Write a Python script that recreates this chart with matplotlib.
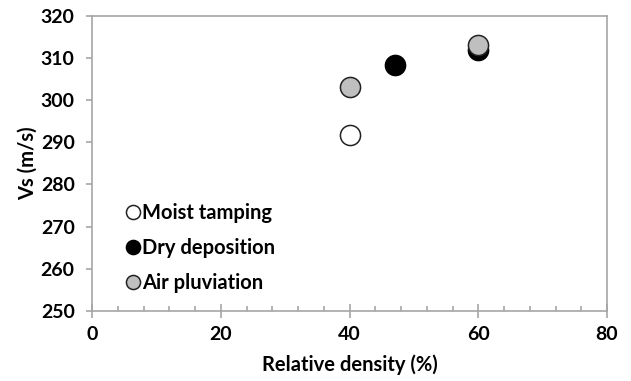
import matplotlib
matplotlib.use('Agg')
import matplotlib.pyplot as plt

plt.rcParams.update({
    'font.family': ['Lato', 'DejaVu Sans'],
    'font.weight': 'bold',
    'font.size': 14,
    'axes.labelweight': 'bold',
})

# Relative density (%) and shear wave velocity (m/s) per preparation method
moist_dr = [40]
moist_vs = [291.7]
dry_dr = [47, 60]
dry_vs = [308.3, 311.8]
air_dr = [40, 60]
air_vs = [303.1, 313.0]

fig = plt.figure(figsize=(6.31, 3.81), dpi=100)
ax = fig.add_axes([0.1458, 0.1837, 0.8162, 0.7756])

ms = 14.5
ax.plot(moist_dr, moist_vs, 'o', ms=ms, mfc='white', mec='#222222', mew=1.1,
        label='Moist tamping', zorder=3)
ax.plot(dry_dr, dry_vs, 'o', ms=ms, mfc='black', mec='black', mew=1.1,
        label='Dry deposition', zorder=3)
ax.plot(air_dr, air_vs, 'o', ms=ms, mfc='#bfbfbf', mec='#222222', mew=1.1,
        label='Air pluviation', zorder=4)

ax.set_xlim(0, 80)
ax.set_ylim(250, 320)
ax.set_xticks(range(0, 81, 20))
ax.set_xticks(range(0, 81, 4), minor=True)
ax.set_yticks(range(250, 321, 10))

for s in ax.spines.values():
    s.set_color('#a6a6a6')
    s.set_linewidth(1.2)

ax.tick_params(axis='x', which='major', direction='inout', length=10,
               width=1.2, color='#a6a6a6', pad=6, labelsize=14)
ax.tick_params(axis='x', which='minor', direction='in', length=3.5,
               width=1.2, color='#a6a6a6')
ax.tick_params(axis='y', which='major', direction='out', length=4.5,
               width=1.2, color='#a6a6a6', pad=8, labelsize=14)

ax.set_xlabel('Relative density (%)', fontsize=14.5, labelpad=8)
ax.set_ylabel('Vs (m/s)', fontsize=14.5, labelpad=2)

leg = ax.legend(loc='lower left', bbox_to_anchor=(0.032, 0.0), frameon=False,
                markerscale=0.7, handlelength=0.6, handletextpad=0.15,
                labelspacing=0.75, fontsize=14.5)

fig.savefig('out.png', dpi=100)
